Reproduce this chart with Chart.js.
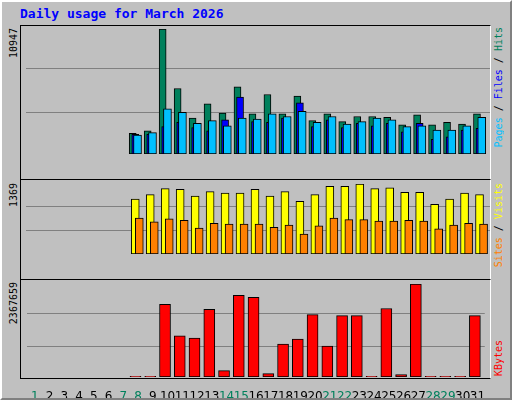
<!DOCTYPE html>
<html>
<head>
<meta charset="utf-8">
<script src="https://cdn.jsdelivr.net/npm/chart.js@4/dist/chart.umd.min.js"></script>
<style>
  body { margin: 0; }
  #frame { position: relative; width: 508px; height: 396px; background: #c0c0c0;
    border-top: 2px solid #fff; border-left: 2px solid #fff;
    border-right: 2px solid #808080; border-bottom: 2px solid #808080; overflow: hidden; }
  .title { position: absolute; left: 18px; top: 4px; font: bold 13px "DejaVu Sans Mono", monospace; color: #0000ff; }
  .panel { position: absolute; left: 18px; width: 471px; box-sizing: border-box;
    border-top: 1px solid #000; border-left: 1px solid #000; border-right: 1px solid #fff; border-bottom: 1px solid #fff; }
  .box { position: absolute; left: 24px; width: 464px; }
  .vl { position: absolute; font: 10px "DejaVu Sans Mono", monospace; writing-mode: vertical-rl; transform: rotate(180deg); white-space: nowrap; }
</style>
</head>
<body>
<div id="frame">
  <div class="title">Daily usage for March 2026</div>
  <div class="panel" style="top:23px;height:155px"></div>
  <div class="panel" style="top:177px;height:101px"></div>
  <div class="panel" style="top:277px;height:100px;border-bottom-color:#000"></div>
  <div class="box" style="top:27px;height:148px"><canvas id="top"></canvas></div>
  <div class="box" style="top:182px;height:93px"><canvas id="mid"></canvas></div>
  <div class="box" style="top:282px;height:116px"><canvas id="bot"></canvas></div>
  <div class="vl" style="left:6px;top:26px">10947</div>
  <div class="vl" style="left:6px;top:181px">1369</div>
  <div class="vl" style="left:6px;top:280px">2367659</div>
  <div class="vl" style="left:491px;top:25px"><span style="color:#00c0ff">Pages</span> / <span style="color:#0000ff">Files</span> / <span style="color:#00805c">Hits</span></div>
  <div class="vl" style="left:491px;top:181px"><span style="color:#ff8000">Sites</span> / <span style="color:#ffff00">Visits</span></div>
  <div class="vl" style="left:491px;top:338px"><span style="color:#ff0000">KBytes</span></div>
</div>
<script>
const days = Array.from({length: 31}, (_, i) => i + 1);
const weekend = [1, 7, 8, 14, 15, 21, 22, 28, 29];
const N = null;
const hits   = [N,N,N,N,N,N,N, 1804,2026,10947,5733,3138,4398,3583,5881,3509,5214,3509,5066,2916,3509,2842,3287,3287,3212,2545,3435,2545,2768,2619,3509];
const files  = [N,N,N,N,N,N,N, 1730,1730,2397,2768,2323,2026,2990,4991,2842,2768,3138,4473,2397,2990,2323,2693,2471,2693,1952,2693,1285,1507,2100,2249];
const pages  = [N,N,N,N,N,N,N, 1656,1878,3954,3657,2693,2916,2471,3138,3064,3509,3287,3731,2768,3287,2619,2842,3138,2990,2397,2471,2100,2100,2471,3212];
const visits = [N,N,N,N,N,N,N, 1072,1161,1280,1265,1132,1221,1191,1191,1265,1132,1221,1028,1161,1324,1324,1369,1280,1295,1206,1206,969,1072,1191,1161];
const sites  = [N,N,N,N,N,N,N, 702,628,687,657,509,598,583,583,583,524,568,390,553,702,672,672,642,642,657,642,494,568,598,583];
const kbytes = [N,N,N,N,N,N,N, 15000,15000,1849000,1046000,994000,1720000,164000,2082000,2031000,86000,838000,968000,1590000,786000,1564000,1564000,15000,1745000,60000,2367659,15000,15000,15000,1564000];
const maxTop = 10947, maxMid = 1369, maxBot = 2367659;

function series(label, vals, off, color, width, order) {
  return {
    label, order,
    data: days.map((d, i) => ({x: d + off, y: vals[i]})),
    backgroundColor: color, borderColor: '#000', borderWidth: 1,
    borderSkipped: false, barThickness: width, grouped: false
  };
}

function makeChart(id, datasets, max, showX) {
  new Chart(document.getElementById(id), {
    type: 'bar',
    data: { datasets },
    options: {
      responsive: true, maintainAspectRatio: false, animation: false,
      layout: { padding: 0 },
      plugins: { legend: { display: false }, tooltip: { enabled: false } },
      scales: {
        x: {
          type: 'linear', min: 0.5, max: 31.5, offset: false,
          display: showX,
          grid: { display: false }, border: { display: false },
          afterBuildTicks: s => { s.ticks = days.map(v => ({value: v})); },
          afterFit: s => { s.height = 23; },
          ticks: {
            autoSkip: false, maxRotation: 0, padding: 5,
            font: { family: 'DejaVu Sans', size: 12 },
            color: c => weekend.includes(c.tick.value) ? '#00805c' : '#000',
            callback: v => v
          }
        },
        y: {
          min: 0, max,
          grid: { color: '#808080', drawTicks: false },
          border: { display: false },
          afterBuildTicks: s => { s.ticks = [{value: max * 0.33}, {value: max * 0.68}]; },
          afterFit: s => { s.width = 0; },
          ticks: { display: false }
        }
      }
    }
  });
}

makeChart('top', [
  series('Hits', hits, -0.37, '#00805c', 7, 3),
  series('Files', files, -0.2, '#0000ff', 7, 2),
  series('Pages', pages, -0.05, '#00c0ff', 8, 1)
], maxTop, false);

makeChart('mid', [
  series('Visits', visits, -0.2, '#ffff00', 8, 2),
  series('Sites', sites, 0.07, '#ff8000', 8, 1)
], maxMid, false);

makeChart('bot', [
  series('KBytes', kbytes, -0.17, '#ff0000', 11, 1)
], maxBot, true);
</script>
</body>
</html>
